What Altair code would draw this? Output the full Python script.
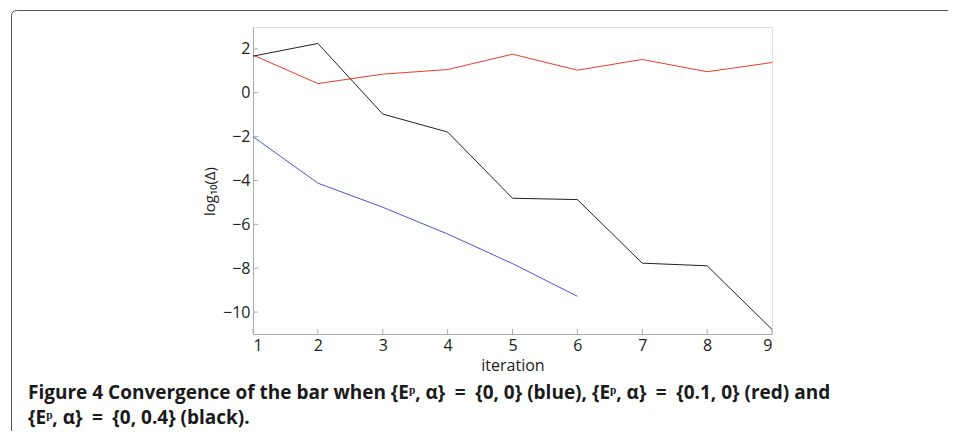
import altair as alt
import pandas as pd

# ---- data ----
iterations = [1, 2, 3, 4, 5, 6, 7, 8, 9]
blue_vals = [-2.0, -4.12, -5.22, -6.44, -7.79, -9.28]          # {E^p, a} = {0, 0}
red_vals = [1.72, 0.42, 0.85, 1.06, 1.76, 1.03, 1.52, 0.96, 1.38]  # {0.1, 0}
black_vals = [1.67, 2.25, -0.97, -1.79, -4.81, -4.87, -7.77, -7.89, -10.79]  # {0, 0.4}
series_names = ["blue", "red", "black"]
series_colors = ["#4a58c8", "#ec3b2b", "#222222"]
x_ticks = [1, 2, 3, 4, 5, 6, 7, 8, 9]
y_ticks = [-10, -8, -6, -4, -2, 0, 2]
caption_lines = [
    "Figure 4 Convergence of the bar when {Eᵖ, α}\u2002=\u2002{0, 0} (blue), {Eᵖ, α}\u2002=\u2002{0.1, 0} (red) and",
    "{Eᵖ, α}\u2002=\u2002{0, 0.4} (black).",
]

rows = []
for i, v in zip(iterations, blue_vals):
    rows.append({"iteration": i, "value": v, "series": "blue"})
for i, v in zip(iterations, red_vals):
    rows.append({"iteration": i, "value": v, "series": "red"})
for i, v in zip(iterations, black_vals):
    rows.append({"iteration": i, "value": v, "series": "black"})
df = pd.DataFrame(rows)

W, H = 519, 307
FONT = "Open Sans"
CAPFONT = "Open Sans"
AX = "#aaaaaa"

xscale = alt.Scale(domain=[1, 9], nice=False, zero=False)
yscale = alt.Scale(domain=[-11, 3], nice=False, zero=False)

x_axis = alt.Axis(values=x_ticks, format="d", ticks=False, tickSize=0, grid=False,
                  domainColor=AX, labelPadding=3, labelFontSize=16, labelFont=FONT,
                  labelColor="#222222", title="iteration", titleFont=FONT,
                  titleFontSize=16, titleFontWeight="normal", titleColor="#222222",
                  titleBaseline="alphabetic", titleY=36, titleX=W / 2)
y_axis = alt.Axis(values=y_ticks, format="d", ticks=False, tickSize=0, grid=False,
                  domainColor=AX, labelPadding=3, labelFontSize=16, labelFont=FONT,
                  labelColor="#222222", title="log₁₀(Δ)", titleFont=FONT,
                  titleFontSize=15, titleFontWeight="normal", titleColor="#222222",
                  titleBaseline="middle", titleAlign="center", titleX=-44, titleY=164)

lines = alt.Chart(df).mark_line(strokeWidth=1).encode(
    x=alt.X("iteration:Q", scale=xscale, axis=x_axis, title="iteration"),
    y=alt.Y("value:Q", scale=yscale, axis=y_axis, title="log₁₀(Δ)"),
    color=alt.Color("series:N", scale=alt.Scale(domain=series_names, range=series_colors), legend=None),
    detail="series:N",
)

yt = alt.Chart(pd.DataFrame({"value": y_ticks})).mark_rule(color=AX, strokeWidth=1).encode(
    y=alt.Y("value:Q", scale=yscale, axis=y_axis, title="log₁₀(Δ)"),
    x=alt.value(0), x2=alt.value(5))
xt = alt.Chart(pd.DataFrame({"iteration": x_ticks})).mark_rule(color=AX, strokeWidth=1).encode(
    x=alt.X("iteration:Q", scale=xscale, axis=x_axis, title="iteration"),
    y=alt.value(H), y2=alt.value(H - 5))

frame = alt.Chart(pd.DataFrame({"a": [0]})).mark_rect(
    fill=None, fillOpacity=0, stroke="#555555", strokeWidth=1, cornerRadius=5).encode(
    x=alt.value(-241.5), x2=alt.value(712), y=alt.value(-16.5), y2=alt.value(440))

cap1 = alt.Chart(pd.DataFrame({"t": [caption_lines[0]]})).mark_text(
    align="left", baseline="alphabetic", font=CAPFONT, fontSize=19,
    fontWeight="bold", color="#1a1a1a").encode(text="t:N", x=alt.value(-225), y=alt.value(372))
cap2 = alt.Chart(pd.DataFrame({"t": [caption_lines[1]]})).mark_text(
    align="left", baseline="alphabetic", font=CAPFONT, fontSize=19,
    fontWeight="bold", color="#1a1a1a").encode(text="t:N", x=alt.value(-225), y=alt.value(397))

chart = alt.layer(frame, lines, xt, yt, cap1, cap2).properties(
    width=W, height=H,
    autosize=alt.AutoSizeParams(type="none"),
    padding={"left": 245, "top": 19, "right": 176, "bottom": 97},
).configure_view(stroke=None).configure(background="white")

chart.save("out.html", embed_options={"renderer": "svg", "actions": False})
